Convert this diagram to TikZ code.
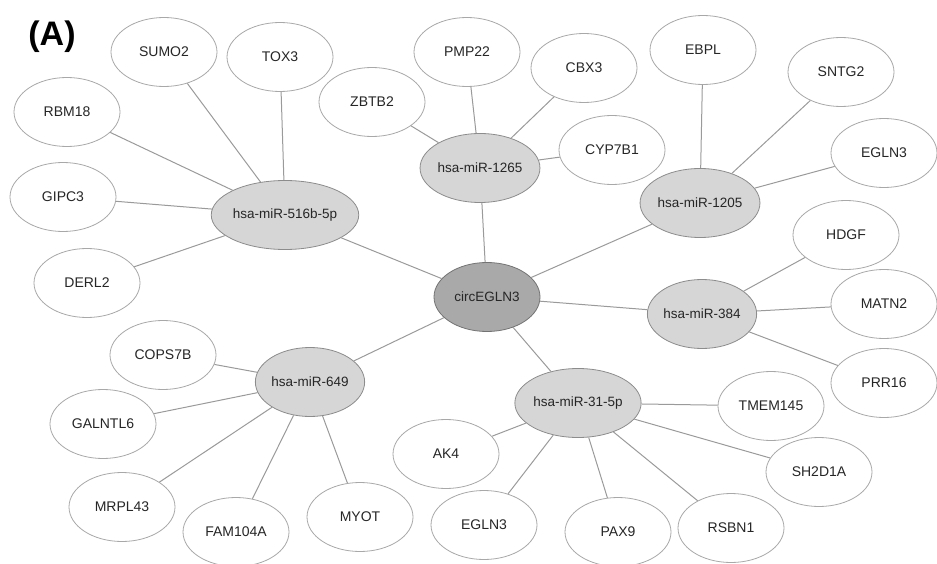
\documentclass[tikz,border=0pt]{standalone}
\usepackage{fontspec}
\setmainfont{Liberation Sans}
\usetikzlibrary{shapes.geometric}
\definecolor{edgegray}{HTML}{9A9A9A}
\definecolor{bordergray}{HTML}{A8A8A8}
\definecolor{mirfill}{HTML}{D6D6D6}
\definecolor{circfill}{HTML}{A9A9A9}
\begin{document}
\begin{tikzpicture}[x=1pt,y=-1pt,
  gene/.style={ellipse,draw=bordergray,line width=0.8pt,fill=white,minimum width=106pt,minimum height=69pt,inner sep=0pt,font=\fontsize{14}{16}\selectfont,text=black!85},
  mir/.style={gene,fill=mirfill,draw=black!45,font=\fontsize{13.5}{16}\selectfont},
  circ/.style={gene,fill=circfill,draw=black!55,font=\fontsize{13.5}{16}\selectfont},
  link/.style={draw=edgegray,line width=1pt}]
\useasboundingbox (0,0) rectangle (937,564);
% hubs
\node[circ] (circ) at (487,297) {circEGLN3};
\node[mir] (m516) at (285,215) {hsa-miR-516b-5p};
\node[mir] (m1265) at (480,168) {hsa-miR-1265};
\node[mir] (m1205) at (700,203) {hsa-miR-1205};
\node[mir] (m384) at (702,314) {hsa-miR-384};
\node[mir] (m31) at (578,403) {hsa-miR-31-5p};
\node[mir] (m649) at (310,382) {hsa-miR-649};
% genes
\node[gene] (sumo2) at (164,52) {SUMO2};
\node[gene] (tox3) at (280,57) {TOX3};
\node[gene] (rbm18) at (67,112) {RBM18};
\node[gene] (gipc3) at (63,197) {GIPC3};
\node[gene] (derl2) at (87,283) {DERL2};
\node[gene] (zbtb2) at (372,102) {ZBTB2};
\node[gene] (pmp22) at (467,52) {PMP22};
\node[gene] (cbx3) at (584,68) {CBX3};
\node[gene] (cyp7b1) at (612,150) {CYP7B1};
\node[gene] (ebpl) at (703,50) {EBPL};
\node[gene] (sntg2) at (841,72) {SNTG2};
\node[gene] (egln3a) at (884,153) {EGLN3};
\node[gene] (hdgf) at (846,235) {HDGF};
\node[gene] (matn2) at (884,304) {MATN2};
\node[gene] (prr16) at (884,383) {PRR16};
\node[gene] (tmem145) at (771,406) {TMEM145};
\node[gene] (sh2d1a) at (819,472) {SH2D1A};
\node[gene] (rsbn1) at (731,528) {RSBN1};
\node[gene] (pax9) at (618,532) {PAX9};
\node[gene] (egln3b) at (484,525) {EGLN3};
\node[gene] (ak4) at (446,454) {AK4};
\node[gene] (cops7b) at (163,355) {COPS7B};
\node[gene] (galntl6) at (103,424) {GALNTL6};
\node[gene] (mrpl43) at (122,507) {MRPL43};
\node[gene] (fam104a) at (236,532) {FAM104A};
\node[gene] (myot) at (360,517) {MYOT};
% label
\node[font=\fontsize{34}{38}\selectfont\bfseries,inner sep=0pt] (lab) at (52,37) {(A)};
% edges
\foreach \a/\b in {circ/m516,circ/m1265,circ/m1205,circ/m384,circ/m31,circ/m649,
  m516/sumo2,m516/tox3,m516/rbm18,m516/gipc3,m516/derl2,
  m1265/zbtb2,m1265/pmp22,m1265/cbx3,m1265/cyp7b1,
  m1205/ebpl,m1205/sntg2,m1205/egln3a,
  m384/hdgf,m384/matn2,m384/prr16,
  m31/tmem145,m31/sh2d1a,m31/rsbn1,m31/pax9,m31/egln3b,m31/ak4,
  m649/cops7b,m649/galntl6,m649/mrpl43,m649/fam104a,m649/myot}
  \path[link] (\a) -- (\b);
\end{tikzpicture}
\end{document}
